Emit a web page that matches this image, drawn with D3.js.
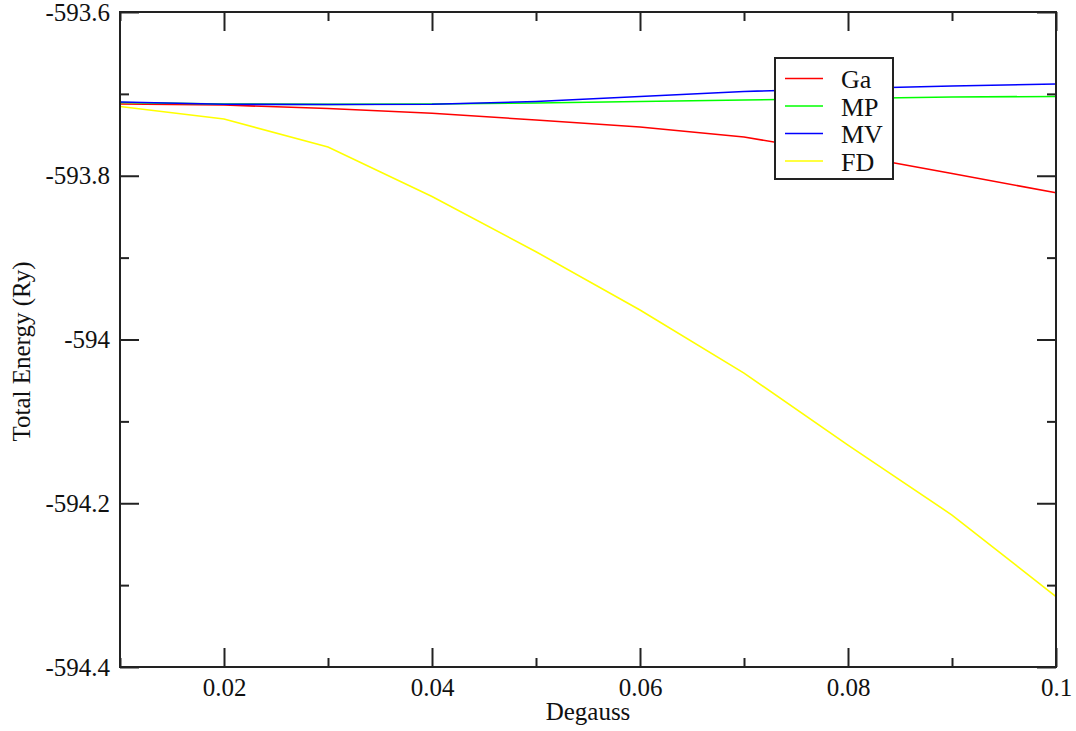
<!DOCTYPE html>
<html>
<head>
<meta charset="utf-8">
<script src="https://cdn.jsdelivr.net/npm/d3@7"></script>
<style>
    body { margin: 0; background: #fff; }
    svg text { font-family: "Liberation Serif", "Times New Roman", serif; fill: #111; }
</style>
</head>
<body>
<script>

var w = 1076;
var h = 731;
var margin = {top: 12, right: 20, bottom: 64, left: 120};

// smearing width values
var degauss = [0.01, 0.02, 0.03, 0.04, 0.05, 0.06, 0.07, 0.08, 0.09, 0.1];

// total energies (Ry)
var ga = [-593.7124, -593.7136, -593.7179, -593.7237, -593.7319, -593.7405, -593.7527, -593.7741, -593.7973, -593.8207];
var mp = [-593.7105, -593.7124, -593.7128, -593.7124, -593.7111, -593.7093, -593.7075, -593.7056, -593.7038, -593.7032];
var mv = [-593.7099, -593.7127, -593.7130, -593.7127, -593.7093, -593.7032, -593.6971, -593.6934, -593.6904, -593.6879];
var fd = [-593.7154, -593.7307, -593.7649, -593.8253, -593.8928, -593.9640, -594.0410, -594.1289, -594.2144, -594.3141];

var seriesNames = ["Ga", "MP", "MV", "FD"];
var seriesColors = ["#ff0000", "#00ff00", "#0000ff", "#ffff00"];
var seriesValues = [ga, mp, mv, fd];

var xTicks = [0.02, 0.04, 0.06, 0.08, 0.1];
var xMinor = [0.01, 0.03, 0.05, 0.07, 0.09];
var yTicks = [-594.4, -594.2, -594, -593.8, -593.6];
var yMinor = [-594.3, -594.1, -593.9, -593.7];

var pw = w - margin.left - margin.right;
var ph = h - margin.top - margin.bottom;

var svg = d3.select("body")
    .append("svg")
    .attr("width", w)
    .attr("height", h);

var g = svg.append("g")
    .attr("transform", "translate(" + margin.left + "," + margin.top + ")");

var x = d3.scaleLinear().domain([0.01, 0.1]).range([0, pw]);
var y = d3.scaleLinear().domain([-594.4, -593.6]).range([ph, 0]);

var line = d3.line()
    .x(function (d, i) { return x(degauss[i]); })
    .y(function (d) { return y(d); });

// data lines
g.selectAll("path.series")
    .data(seriesValues)
    .enter()
    .append("path")
    .attr("class", "series")
    .attr("d", function (d) { return line(d); })
    .attr("fill", "none")
    .attr("stroke", function (d, i) { return seriesColors[i]; })
    .attr("stroke-width", 1.6);

function styleAxis(sel) {
    sel.attr("font-family", null).attr("font-size", null);
    sel.select(".domain").remove();
    sel.selectAll("line").attr("stroke", "#222").attr("stroke-width", 2);
    sel.selectAll("text")
        .style("font-family", "'Liberation Serif', serif")
        .style("font-size", "25px")
        .attr("fill", "#111");
}

// major ticks with labels (inward)
g.append("g")
    .attr("transform", "translate(0," + ph + ")")
    .call(d3.axisBottom(x).tickValues(xTicks).tickSizeInner(-19).tickSizeOuter(0).tickPadding(11)
        .tickFormat(function (d) { return d; }))
    .call(styleAxis);

g.append("g")
    .call(d3.axisLeft(y).tickValues(yTicks).tickSizeInner(-19).tickSizeOuter(0).tickPadding(10)
        .tickFormat(function (d) { return d; }))
    .call(styleAxis);

g.append("g")
    .call(d3.axisTop(x).tickValues(xTicks).tickSizeInner(-19).tickSizeOuter(0).tickFormat(""))
    .call(styleAxis);

g.append("g")
    .attr("transform", "translate(" + pw + ",0)")
    .call(d3.axisRight(y).tickValues(yTicks).tickSizeInner(-19).tickSizeOuter(0).tickFormat(""))
    .call(styleAxis);

// minor ticks
g.append("g")
    .attr("transform", "translate(0," + ph + ")")
    .call(d3.axisBottom(x).tickValues(xMinor).tickSizeInner(-9).tickSizeOuter(0).tickFormat(""))
    .call(styleAxis);
g.append("g")
    .call(d3.axisTop(x).tickValues(xMinor).tickSizeInner(-9).tickSizeOuter(0).tickFormat(""))
    .call(styleAxis);
g.append("g")
    .call(d3.axisLeft(y).tickValues(yMinor).tickSizeInner(-9).tickSizeOuter(0).tickFormat(""))
    .call(styleAxis);
g.append("g")
    .attr("transform", "translate(" + pw + ",0)")
    .call(d3.axisRight(y).tickValues(yMinor).tickSizeInner(-9).tickSizeOuter(0).tickFormat(""))
    .call(styleAxis);

// frame
g.append("rect")
    .attr("x", 0)
    .attr("y", 0)
    .attr("width", pw)
    .attr("height", ph)
    .attr("fill", "none")
    .attr("stroke", "#222")
    .attr("stroke-width", 2);

// axis titles
svg.append("text")
    .attr("x", margin.left + pw / 2)
    .attr("y", 720)
    .attr("text-anchor", "middle")
    .attr("font-size", 25)
    .text("Degauss");

svg.append("text")
    .attr("transform", "translate(30," + (margin.top + ph / 2 + 12) + ") rotate(-90)")
    .attr("text-anchor", "middle")
    .attr("font-size", 25)
    .text("Total Energy (Ry)");

// legend
var legend = svg.append("g")
    .attr("transform", "translate(775,58)");

legend.append("rect")
    .attr("x", 0)
    .attr("y", 0)
    .attr("width", 118)
    .attr("height", 121)
    .attr("fill", "#fff")
    .attr("stroke", "#222")
    .attr("stroke-width", 2);

var rows = legend.selectAll("g.row")
    .data(seriesNames)
    .enter()
    .append("g")
    .attr("class", "row")
    .attr("transform", function (d, i) { return "translate(0," + (20.5 + i * 27.5) + ")"; });

rows.append("line")
    .attr("x1", 10)
    .attr("x2", 48)
    .attr("y1", 0)
    .attr("y2", 0)
    .attr("stroke", function (d, i) { return seriesColors[i]; })
    .attr("stroke-width", 1.6);

rows.append("text")
    .attr("x", 66)
    .attr("y", 9.5)
    .attr("font-size", 26)
    .text(function (d) { return d; });

</script>
</body>
</html>
